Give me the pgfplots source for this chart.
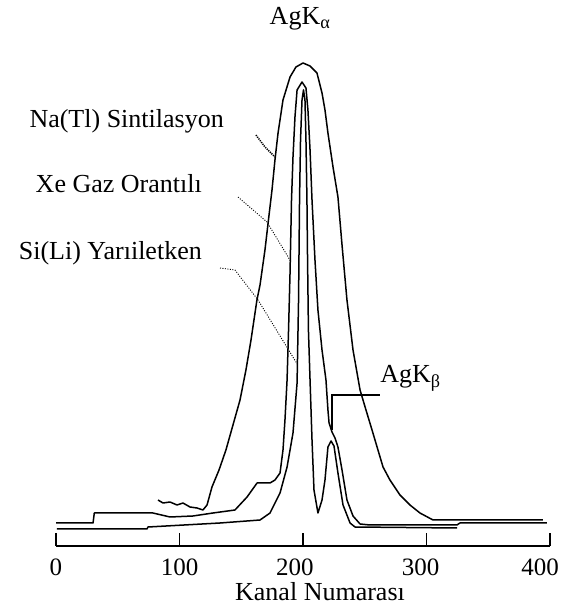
\documentclass[border=0pt]{standalone}
\usepackage{fontspec}
\setmainfont{Liberation Serif}
\usepackage{pgfplots}
\pgfplotsset{compat=1.18}
\newcommand{\bigfont}{\fontsize{26}{30}\selectfont}
\newcommand{\tickfont}{\fontsize{25}{29}\selectfont}
\begin{document}
\begin{tikzpicture}[x=1pt,y=1pt]
\useasboundingbox (0,0) rectangle (562,613);
\begin{axis}[
  at={(56pt,67pt)}, anchor=south west,
  scale only axis, width=494pt, height=546pt,
  xmin=0, xmax=400, ymin=0, ymax=546,
  axis x line=bottom, axis y line=none,
  axis line style={-, line width=1.2pt},
  xtick={0,100,200,300,400},
  xticklabels={0,100,\hspace*{-16pt}200,\hspace*{-12pt}300,\hspace*{-20pt}400},
  tick align=inside, major tick length=13pt,
  tick style={line width=1.2pt, black},
  xticklabel style={font=\tickfont, anchor=base, yshift=-29pt, inner sep=0pt},
  xlabel={Kanal Numarası},
  xlabel style={font=\bigfont, at={(axis description cs:0.5,0)}, anchor=base, yshift=-54pt, xshift=17pt, inner sep=0pt},
  clip=false,
  curve/.style={black, line width=1.5pt, line join=round, mark=none},
  lead/.style={black, line width=0.9pt, dash pattern=on 1pt off 1.5pt, mark=none},
]
% Na(Tl) scintillation
\addplot[curve] coordinates {
(82.6,46) (86.6,43) (92.3,44) (98.0,41) (102.8,43) (108.5,39) (114.2,38) (119.0,36)
(122.3,41) (126.3,59) (132.0,76) (137.6,96) (143.3,121) (149.0,146) (153.8,176)
(157.9,206) (162.7,246) (165.2,261) (169.2,296) (172.5,331) (174.9,356) (177.3,386)
(179.8,413) (183.8,446) (189.5,469) (194.3,479) (200.0,483) (205.7,480) (211.3,473)
(215.4,453) (217.8,436) (220.2,413) (224.3,379) (228.3,349) (231.6,301) (235.6,246)
(240.5,196) (246.2,156) (251.0,136) (255.9,116) (260.7,96) (264.8,79) (270.4,66)
(278.5,51) (286.6,41) (294.7,33) (305.3,26) (394.3,26)
};
% Xe gas proportional
\addplot[curve] coordinates {
(0,23) (30,23) (31,33) (78.5,33) (92.3,29) (110.9,30) (127.1,33) (144.9,36)
(154.7,49) (162.8,63) (173.3,63) (177.3,66) (181.4,73) (183.8,96) (185.4,126)
(187.1,166) (188.3,216) (189.5,273) (190.7,346) (191.9,389) (193.5,429) (195.2,456)
(199.2,464) (202.4,458) (204.0,436) (205.7,396) (207.3,346) (209.7,286) (212.1,236)
(215.4,196) (218.6,166) (220.2,136) (221.1,123) (223.5,114) (225.9,108) (228.3,99)
(231.6,76) (235.6,46) (240.5,30) (246.2,22) (254.2,21) (324.7,21) (327,23) (397.5,23)
};
% Si(Li) semiconductor
\addplot[curve] coordinates {
(0.8,17) (73.7,17) (74.5,19) (132.8,23) (165.2,26) (173.3,33) (181.4,53) (187.1,79)
(191.9,113) (195.2,163) (196.4,246) (197.2,346) (198.0,406) (199.2,446) (200.4,456)
(201.6,446) (202.4,406) (203.2,346) (203.6,296) (204.4,216) (205.7,166) (207.3,106)
(208.9,56) (212.1,33) (215.4,46) (217.8,66) (220.2,99) (222.7,105) (225.1,100)
(228.3,73) (232.4,41) (238.1,23) (242.1,19) (324.7,18)
};
% leader lines
\addplot[black, mark=none, line width=1.5pt, dash pattern=on 1.2pt off 1pt] coordinates {(161.9,411) (169.2,399) (177.3,389)};
\addplot[lead] coordinates {(147.4,349) (170.8,324) (187.0,291) (190.3,284)};
\addplot[lead] coordinates {(132.8,278) (144.9,276) (163.6,246) (195.3,182)};
\addplot[black, mark=none, line width=1.1pt] coordinates {(223.5,116) (223.5,151) (262.3,151)};
% labels
\node[anchor=base, font=\bigfont, inner sep=0pt] at (axis cs:197.6,521) {AgK\textsubscript{α}};
\node[anchor=base east, font=\bigfont, inner sep=0pt] at (axis cs:136,418) {Na(Tl) Sintilasyon};
\node[anchor=base east, font=\bigfont, inner sep=0pt] at (axis cs:118.2,353) {Xe Gaz Orantılı};
\node[anchor=base east, font=\bigfont, inner sep=0pt] at (axis cs:118.2,286) {Si(Li) Yarıiletken};
\node[anchor=base west, font=\bigfont, inner sep=0pt] at (axis cs:262.5,163) {AgK\textsubscript{β}};
\end{axis}
\end{tikzpicture}
\end{document}
